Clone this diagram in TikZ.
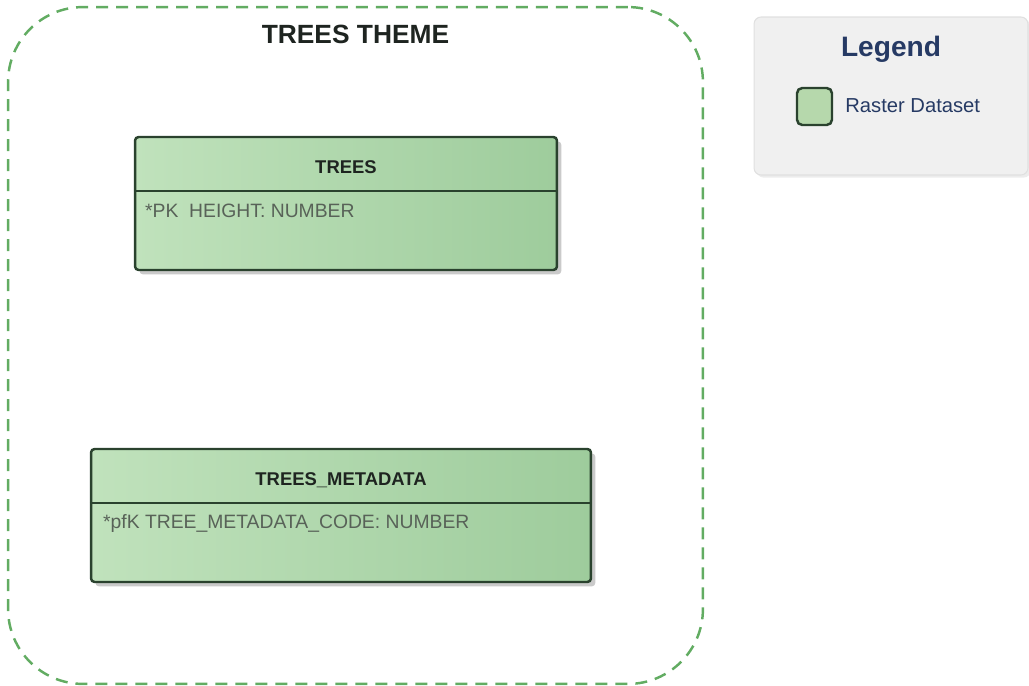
\documentclass[tikz,border=0pt]{standalone}
\usepackage{fontspec}
\setmainfont{Liberation Sans}
\usetikzlibrary{calc,positioning,shadows}

\definecolor{themegreen}{RGB}{98,172,98}
\definecolor{entlight}{RGB}{192,226,188}
\definecolor{entdark}{RGB}{158,204,156}
\definecolor{entborder}{RGB}{42,66,46}
\definecolor{enttext}{RGB}{30,36,32}
\definecolor{attrtext}{RGB}{88,98,88}
\definecolor{legendfill}{RGB}{240,240,240}
\definecolor{legendline}{RGB}{224,224,224}
\definecolor{legendtext}{RGB}{38,58,100}
\definecolor{swatchfill}{RGB}{182,216,172}

\tikzset{
  themebox/.style={draw=themegreen, line width=1.4pt, dash pattern=on 0.24cm off 0.16cm, rounded corners=1.5cm, inner sep=0pt},
  themetitle/.style={font=\fontsize{15}{18}\selectfont\bfseries, text=enttext, anchor=base, inner sep=0pt},
  entity/.style={draw=entborder, line width=1.4pt, rounded corners=2pt, left color=entlight, right color=entdark,
    drop shadow={shadow xshift=2.5pt, shadow yshift=-2.5pt, fill=black!35, opacity=0.6}, inner sep=0pt},
  divider/.style={draw=entborder, line width=1.4pt},
  enthead/.style={font=\fontsize{10.5}{12}\selectfont\bfseries, text=enttext, anchor=base, inner sep=0pt},
  entattr/.style={font=\fontsize{11}{13}\selectfont, text=attrtext, anchor=base west, inner sep=0pt},
  legendbox/.style={draw=legendline, fill=legendfill, line width=0.6pt, rounded corners=4pt, inner sep=0pt,
    drop shadow={shadow xshift=1.5pt, shadow yshift=-1.5pt, fill=black!15, opacity=0.5}},
  legendtitle/.style={font=\fontsize{16}{19}\selectfont\bfseries, text=legendtext, anchor=base, inner sep=0pt},
  legendlabel/.style={font=\fontsize{11.5}{14}\selectfont, text=legendtext, anchor=base west, inner sep=0pt},
  swatch/.style={draw=entborder, fill=swatchfill, line width=1.4pt, rounded corners=3pt, minimum width=0.7cm, minimum height=0.74cm, inner sep=0pt},
}

\begin{document}
\begin{tikzpicture}[x=0.02cm, y=-0.02cm]
	%%%%% START %%%%%
	\useasboundingbox (0,0) rectangle (1029,686);
	
	% theme boundary
	\node[themebox, minimum width=13.9cm, minimum height=13.54cm] (theme) at (355.5,345.5) {};
	\node[themetitle] (themename) at ($(theme.north)+(0,38)$) {TREES THEME};
	
	% TREES
	\node[entity, minimum width=8.44cm, minimum height=2.66cm] (trees) at (346,203.5) {};
	\draw[divider] ($(trees.north west)+(0,55)$) -- ($(trees.north east)+(0,55)$);
	\node[enthead] (treesname) at ($(trees.north)+(0,38)$) {TREES};
	\node[entattr] (treesattr) at ($(trees.north west)+(11,82)$) {*PK\ \ HEIGHT: NUMBER};
	
	% TREES_METADATA
	\node[entity, minimum width=10cm, minimum height=2.66cm] (meta) at (341,515.5) {};
	\draw[divider] ($(meta.north west)+(0,55)$) -- ($(meta.north east)+(0,55)$);
	\node[enthead] (metaname) at ($(meta.north)+(0,38)$) {TREES\_METADATA};
	\node[entattr] (metaattr) at ($(meta.north west)+(13,81)$) {*pfK TREE\_METADATA\_CODE: NUMBER};
	
	% legend
	\node[legendbox, minimum width=5.48cm, minimum height=3.16cm] (legend) at (891,96) {};
	\node[legendtitle] (legendname) at ($(legend.north)+(0,40)$) {Legend};
	\node[swatch] (rasterkey) at (814.5,106.5) {};
	\node[legendlabel] (rasterlabel) at (845,113) {Raster Dataset};
	
	%%%%% END %%%%%
\end{tikzpicture}
\end{document}
